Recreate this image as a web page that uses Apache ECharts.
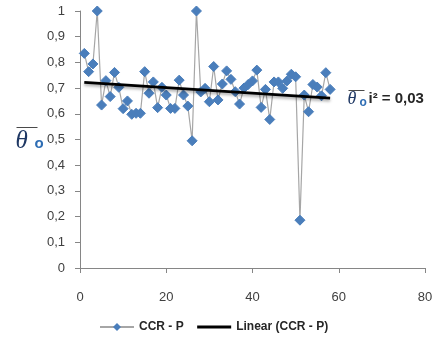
<!DOCTYPE html>
<html>
<head>
<meta charset="utf-8">
<script src="https://cdn.jsdelivr.net/npm/echarts@6/dist/echarts.min.js"></script>
<style>html,body{margin:0;padding:0;background:#fff}#c{width:436px;height:339px}</style>
</head>
<body>
<div id="c"></div>
<script>
const xValues = [1,2,3,4,5,6,7,8,9,10,11,12,13,14,15,16,17,18,19,20,21,22,23,24,25,26,27,28,29,30,31,32,33,34,35,36,37,38,39,40,41,42,43,44,45,46,47,48,49,50,51,52,53,54,55,56,57,58];
const ccrP = [0.835,0.764,0.794,1.0,0.634,0.729,0.667,0.761,0.703,0.62,0.65,0.598,0.602,0.602,0.764,0.68,0.724,0.624,0.703,0.673,0.621,0.621,0.731,0.673,0.63,0.495,1.0,0.685,0.699,0.647,0.784,0.654,0.716,0.767,0.734,0.686,0.638,0.7,0.714,0.728,0.77,0.625,0.695,0.578,0.724,0.724,0.699,0.728,0.754,0.744,0.186,0.673,0.608,0.714,0.704,0.67,0.76,0.695];
const xTicks = [0,20,40,60,80];
const yTicks = [0,0.1,0.2,0.3,0.4,0.5,0.6,0.7,0.8,0.9,1];
const seriesName = 'CCR - P';
const trendName = 'Linear (CCR - P)';
const r2Text = 'i² = 0,03';

// least-squares trendline from the data
const n = xValues.length;
let sx=0, sy=0, sxx=0, sxy=0;
for (let i=0;i<n;i++){sx+=xValues[i];sy+=ccrP[i];sxx+=xValues[i]*xValues[i];sxy+=xValues[i]*ccrP[i];}
const slope = (n*sxy - sx*sy)/(n*sxx - sx*sx);
const icpt = (sy - slope*sx)/n;
const x0 = xValues[0], x1 = xValues[n-1];
const trend = [[x0, icpt+slope*x0],[x1, icpt+slope*x1]];

const chart = echarts.init(document.getElementById('c'), null, {renderer:'canvas'});
const fmt = v => (Math.abs(v-Math.round(v))<1e-9 ? String(Math.round(v)) : v.toFixed(1).replace('.', ','));
chart.setOption({
  animation:false,
  backgroundColor:'#fff',
  grid:{left:80, right:11, top:11, bottom:71, containLabel:false},
  xAxis:{type:'value', min:xTicks[0], max:xTicks[xTicks.length-1], interval:20,
    axisLine:{show:true, lineStyle:{color:'#868686', width:1}},
    axisTick:{show:true, length:5, lineStyle:{color:'#868686'}},
    splitLine:{show:false},
    axisLabel:{margin:23, color:'#404040', fontSize:13, fontFamily:'Liberation Sans'}},
  yAxis:{type:'value', min:yTicks[0], max:yTicks[yTicks.length-1], interval:0.1,
    axisLine:{show:true, lineStyle:{color:'#868686', width:1}},
    axisTick:{show:true, length:5, lineStyle:{color:'#868686'}},
    splitLine:{show:false},
    axisLabel:{margin:15, color:'#404040', fontSize:13, fontFamily:'Liberation Sans', formatter:fmt}},
  legend:{bottom:1, left:94, itemWidth:34, itemHeight:10, itemGap:12,
    textStyle:{fontSize:12, fontWeight:'bold', color:'#262626', fontFamily:'Liberation Sans'},
    data:[seriesName, {name:trendName, itemStyle:{opacity:0}, lineStyle:{width:3, color:'#000'}}]},
  series:[
    {name:seriesName, type:'line', data:xValues.map((x,i)=>[x, ccrP[i]]),
      symbol:'diamond', symbolSize:10, showSymbol:true,
      itemStyle:{color:'#4a7ebb', borderColor:'#4a7ebb'},
      lineStyle:{color:'#a6a6a6', width:1.2}, z:2},
    {name:trendName, type:'line', data:trend, symbol:'none',
      lineStyle:{color:'#000', width:2.8, shadowColor:'rgba(0,0,0,0.35)', shadowBlur:3, shadowOffsetY:2},
      itemStyle:{color:'#000'}, z:3}
  ],
  graphic:[
    {type:'group', left:14, top:125, children:[
      {type:'line', shape:{x1:1, y1:2, x2:22, y2:2}, style:{stroke:'#4a4a4a', lineWidth:1}},
      {type:'text', left:0, top:3, style:{text:'θ', font:'italic 25px "Liberation Serif"', fill:'#1f3864'}},
      {type:'text', left:19, top:11, style:{text:'o', font:'bold 15px "Liberation Sans"', fill:'#2e6db4'}}
    ]},
    {type:'group', left:346, top:88, children:[
      {type:'line', shape:{x1:1, y1:1, x2:17, y2:1}, style:{stroke:'#4a4a4a', lineWidth:1}},
      {type:'text', left:0, top:1, style:{text:'θ', font:'italic 18px "Liberation Serif"', fill:'#1f3864'}},
      {type:'text', left:12, top:7, style:{text:'o', font:'bold 12px "Liberation Sans"', fill:'#2e6db4'}},
      {type:'text', left:21, top:2, style:{text:r2Text, font:'bold 15px "Liberation Sans"', fill:'#262626'}}
    ]}
  ]
});
</script>
</body>
</html>
